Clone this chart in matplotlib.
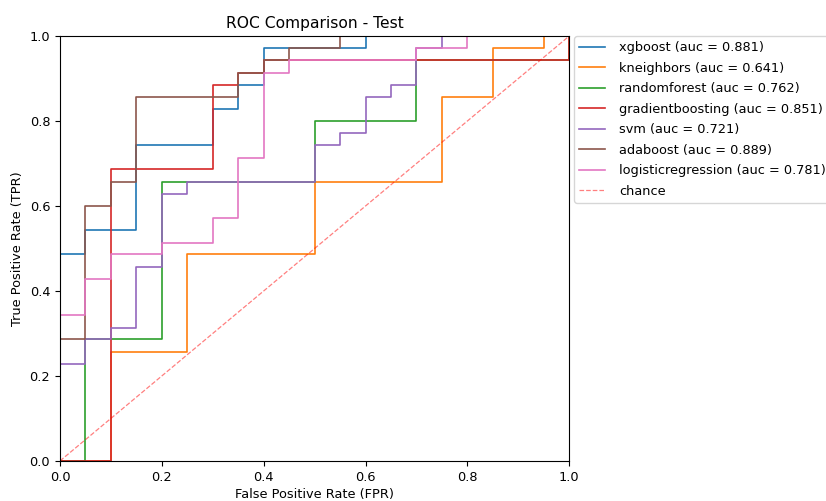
import matplotlib
matplotlib.use("Agg")
import matplotlib.pyplot as plt

plt.rcParams["font.size"] = 9.3

# ROC curves (corner points of each step curve)
model_names = ["xgboost", "kneighbors", "randomforest", "gradientboosting",
               "svm", "adaboost", "logisticregression"]
auc_values = [0.881, 0.641, 0.762, 0.851, 0.721, 0.889, 0.781]

xgb_fpr = [0, 0, 0.05, 0.05, 0.15, 0.15, 0.3, 0.3, 0.35, 0.35, 0.4, 0.4, 0.6, 0.6, 1.0]
xgb_tpr = [0, 0.486, 0.486, 0.543, 0.543, 0.743, 0.743, 0.829, 0.829, 0.886, 0.886, 0.971, 0.971, 1.0, 1.0]

knn_fpr = [0, 0.1, 0.1, 0.25, 0.25, 0.5, 0.5, 0.75, 0.75, 0.85, 0.85, 0.95, 0.95, 1.0]
knn_tpr = [0, 0, 0.257, 0.257, 0.486, 0.486, 0.657, 0.657, 0.857, 0.857, 0.971, 0.971, 1.0, 1.0]

rf_fpr = [0, 0.05, 0.05, 0.2, 0.2, 0.5, 0.5, 0.7, 0.7, 1.0, 1.0]
rf_tpr = [0, 0, 0.286, 0.286, 0.657, 0.657, 0.8, 0.8, 0.943, 0.943, 1.0]

gb_fpr = [0, 0.1, 0.1, 0.3, 0.3, 0.35, 0.35, 0.4, 0.4, 1.0, 1.0]
gb_tpr = [0, 0, 0.686, 0.686, 0.886, 0.886, 0.914, 0.914, 0.943, 0.943, 1.0]

svm_fpr = [0, 0, 0.05, 0.05, 0.1, 0.1, 0.15, 0.15, 0.2, 0.2, 0.25, 0.25, 0.5, 0.5,
           0.55, 0.55, 0.6, 0.6, 0.65, 0.65, 0.7, 0.7, 0.75, 0.75, 1.0]
svm_tpr = [0, 0.229, 0.229, 0.286, 0.286, 0.314, 0.314, 0.457, 0.457, 0.629, 0.629, 0.657, 0.657, 0.743,
           0.743, 0.771, 0.771, 0.857, 0.857, 0.886, 0.886, 0.971, 0.971, 1.0, 1.0]

ada_fpr = [0, 0, 0.05, 0.05, 0.1, 0.1, 0.15, 0.15, 0.35, 0.35, 0.4, 0.4, 0.45, 0.45, 0.55, 0.55, 1.0]
ada_tpr = [0, 0.286, 0.286, 0.6, 0.6, 0.657, 0.657, 0.857, 0.857, 0.914, 0.914, 0.943, 0.943, 0.971, 0.971, 1.0, 1.0]

lr_fpr = [0, 0, 0.05, 0.05, 0.1, 0.1, 0.2, 0.2, 0.3, 0.3, 0.35, 0.35, 0.4, 0.4,
          0.45, 0.45, 0.7, 0.7, 0.8, 0.8, 1.0]
lr_tpr = [0, 0.343, 0.343, 0.429, 0.429, 0.486, 0.486, 0.514, 0.514, 0.571, 0.571, 0.714, 0.714, 0.914,
          0.914, 0.943, 0.943, 0.971, 0.971, 1.0, 1.0]

curves = [(xgb_fpr, xgb_tpr), (knn_fpr, knn_tpr), (rf_fpr, rf_tpr), (gb_fpr, gb_tpr),
          (svm_fpr, svm_tpr), (ada_fpr, ada_tpr), (lr_fpr, lr_tpr)]

fig = plt.figure(figsize=(8.26, 5.01), dpi=100)
ax = fig.add_axes([0.0726, 0.080, 0.6165, 0.848])

for name, auc, (fpr, tpr) in zip(model_names, auc_values, curves):
    ax.plot(fpr, tpr, lw=1.2, label="%s (auc = %.3f)" % (name, auc))

ax.plot([0, 1], [0, 1], linestyle="--", lw=0.9, color="r", alpha=0.5, label="chance")

ax.set_xlim(0, 1)
ax.set_ylim(0, 1)
ax.set_title("ROC Comparison - Test", fontsize=11.2)
ax.set_xlabel("False Positive Rate (FPR)", labelpad=3)
ax.set_ylabel("True Positive Rate (TPR)")
ax.legend(loc="upper left", bbox_to_anchor=(1.01, 1.0), borderaxespad=0,
          labelspacing=0.58, handletextpad=1.1)

fig.savefig("out.png", dpi=100)
